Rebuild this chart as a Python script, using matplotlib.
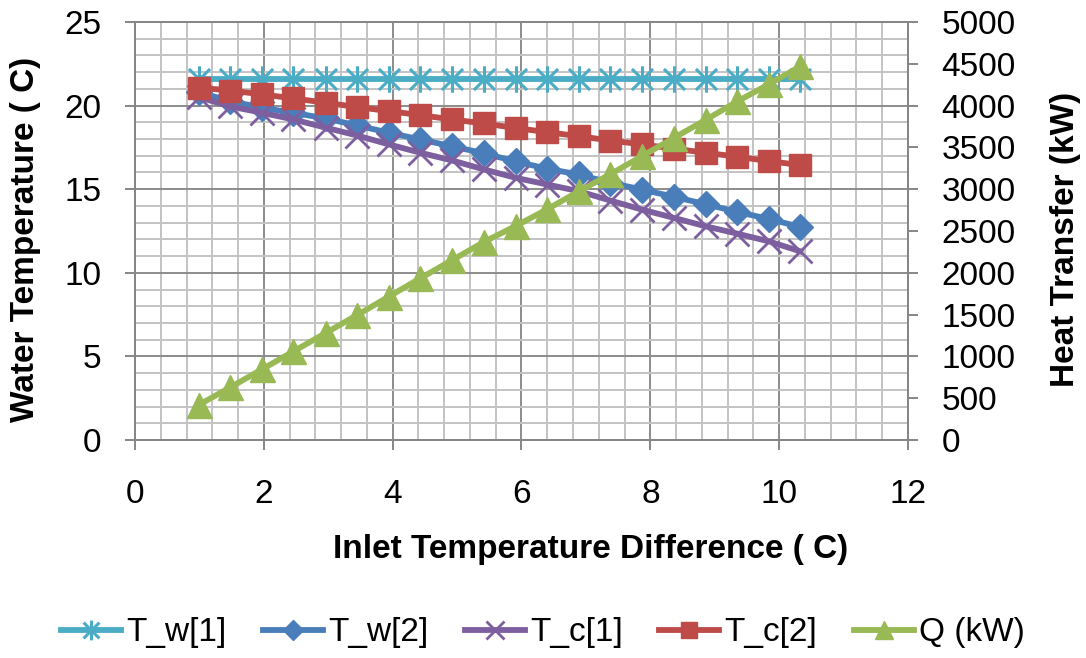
import matplotlib
matplotlib.use('Agg')
import matplotlib.pyplot as plt
from matplotlib.path import Path
from matplotlib.ticker import MultipleLocator

plt.rcParams['font.family'] = ['Liberation Sans', 'DejaVu Sans']

# inlet temperature difference (C)
dT = [0.99, 1.48, 1.97, 2.46, 2.96, 3.45, 3.94, 4.43, 4.92, 5.42,
      5.91, 6.40, 6.89, 7.38, 7.87, 8.37, 8.86, 9.35, 9.84, 10.33]

# water temperatures (C)
T_w1 = [21.6] * 20
T_w2 = [20.8, 20.27, 19.87, 19.57, 19.23, 18.81, 18.38, 17.97, 17.57, 17.14,
        16.66, 16.22, 15.88, 15.38, 14.98, 14.54, 14.10, 13.64, 13.22, 12.74]
T_c1 = [20.5, 19.95, 19.57, 19.17, 18.68, 18.21, 17.68, 17.18, 16.72, 16.18,
        15.68, 15.28, 14.88, 14.32, 13.78, 13.28, 12.78, 12.34, 11.88, 11.28]
T_c2 = [21.07, 20.9, 20.67, 20.43, 20.17, 19.91, 19.67, 19.43, 19.17, 18.93,
        18.66, 18.41, 18.17, 17.91, 17.68, 17.42, 17.18, 16.94, 16.68, 16.44]

# heat transfer (kW)
Q = [420, 630, 845, 1060, 1280, 1495, 1715, 1935, 2150, 2370,
     2560, 2760, 2975, 3180, 3395, 3615, 3830, 4050, 4255, 4470]

# excel style star marker: vertical bar plus an x
star = Path([(0, -1), (0, 1), (-0.8, -0.8), (0.8, 0.8), (-0.8, 0.8), (0.8, -0.8)],
            [Path.MOVETO, Path.LINETO, Path.MOVETO, Path.LINETO, Path.MOVETO, Path.LINETO])

gray = '#868686'
lw = 4.2

fig = plt.figure(figsize=(10.86, 6.58), dpi=100)
ax = fig.add_axes([0.1243, 0.3313, 0.7118, 0.6353])

l1, = ax.plot(dT, T_w1, color='#4BACC6', lw=lw, marker=star, ms=19, mew=2.2, label='T_w[1]')
l2, = ax.plot(dT, T_w2, color='#4A7EBB', lw=lw, marker='D', ms=13, label='T_w[2]')
l3, = ax.plot(dT, T_c1, color='#7D5FA0', lw=lw, marker='x', ms=17, mew=2.0, label='T_c[1]')
l4, = ax.plot(dT, T_c2, color='#BE4B48', lw=lw, marker='s', ms=16, label='T_c[2]')

ax.set_xlim(0, 12)
ax.set_ylim(0, 25)
ax.xaxis.set_major_locator(MultipleLocator(2))
ax.xaxis.set_minor_locator(MultipleLocator(0.4))
ax.yaxis.set_major_locator(MultipleLocator(5))
ax.yaxis.set_minor_locator(MultipleLocator(1))
ax.grid(which='minor', color='#c3c3c3', lw=1.4)
ax.grid(which='major', color='#8c8c8c', lw=1.4)
ax.set_axisbelow(True)
ax.tick_params(which='minor', length=0)
ax.tick_params(which='major', length=7, width=1.4, color=gray, labelsize=24)
ax.tick_params(axis='x', pad=21)
ax.tick_params(axis='y', pad=17)

ax2 = ax.twinx()
l5, = ax2.plot(dT, Q, color='#98B954', lw=lw, marker='^', ms=18, label='Q (kW)')
ax2.set_ylim(0, 5000)
ax2.yaxis.set_major_locator(MultipleLocator(500))
ax2.tick_params(which='major', length=7, width=1.4, color=gray, labelsize=24, pad=17)

for a in (ax, ax2):
    for s in a.spines.values():
        s.set_color(gray)
        s.set_linewidth(1.4)

ax.set_xlabel('Inlet Temperature Difference ( C)', fontsize=24, fontweight='bold')
ax.set_ylabel('Water Temperature ( C)', fontsize=24, fontweight='bold', va='center')
ax2.set_ylabel('Heat Transfer (kW)', fontsize=24, fontweight='bold', va='center')
ax.xaxis.set_label_coords(0.589, -0.225)
ax.xaxis.label.set_va('top')
ax.yaxis.set_label_coords(-0.141, 0.48)
ax2.yaxis.set_label_coords(1.204, 0.48)

fig.legend([l1, l2, l3, l4, l5], ['T_w[1]', 'T_w[2]', 'T_c[1]', 'T_c[2]', 'Q (kW)'],
           loc='center', bbox_to_anchor=(0.5, 0.038), ncol=5, frameon=False,
           fontsize=24, handlelength=1.8, handletextpad=0.15, columnspacing=1.1,
           markerscale=0.75)

fig.savefig('out.png', dpi=100)
